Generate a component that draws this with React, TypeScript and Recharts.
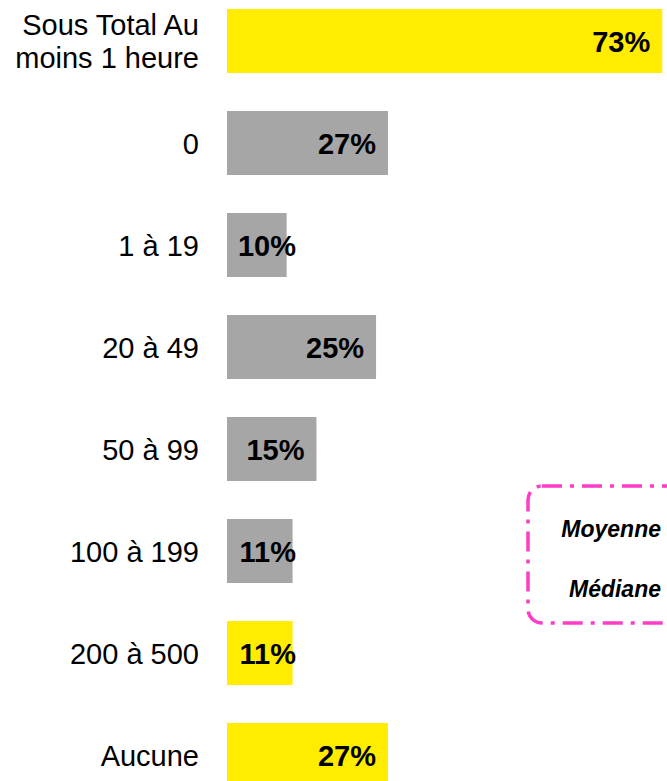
import React from "react";
import { BarChart, Bar, XAxis, YAxis, Cell, LabelList } from "recharts";

const categories = [
  "Sous Total Au\nmoins 1 heure",
  "0",
  "1 à 19",
  "20 à 49",
  "50 à 99",
  "100 à 199",
  "200 à 500",
  "Aucune",
];
const values = [73, 27, 10, 25, 15, 11, 11, 27];
const colors = ["#FFEC00", "#A6A6A6", "#A6A6A6", "#A6A6A6", "#A6A6A6", "#A6A6A6", "#FFEC00", "#FFEC00"];
const boxLines = ["Moyenne", "Médiane"];

const data = categories.map((c, i) => ({ name: c, value: values[i], color: colors[i] }));

const FONT = "'Liberation Sans', Arial, sans-serif";

const CatTick = (props: any) => {
  const { x, y, payload } = props;
  const lines = String(payload.value).split("\n");
  const n = lines.length;
  return (
    <g>
      {lines.map((l, i) => (
        <text
          key={i}
          x={x}
          y={y + 10.5 + (i - (n - 1) / 2) * 33}
          textAnchor="end"
          fontFamily={FONT}
          fontSize={29}
          fill="#000"
        >
          {l}
        </text>
      ))}
    </g>
  );
};

const ValLabel = (props: any) => {
  const { x, y, width, height, value } = props;
  const tx = Math.max(x + width - 12, x + 69);
  return (
    <text
      x={tx}
      y={y + height / 2 + 10.5}
      textAnchor="end"
      fontFamily={FONT}
      fontSize={29}
      fontWeight="bold"
      fill="#000"
    >
      {value}%
    </text>
  );
};

export default function App() {
  return (
    <div
      style={{
        position: "absolute",
        left: 0,
        top: 0,
        width: 667,
        height: 781,
        overflow: "hidden",
        background: "#fff",
      }}
    >
      <div style={{ position: "absolute", left: 0, top: -10 }}>
        <BarChart
          layout="vertical"
          width={704}
          height={816}
          data={data}
          margin={{ top: 0, right: 0, bottom: 0, left: 0 }}
          barSize={64}
        >
          <XAxis type="number" domain={[0, 80]} hide />
          <YAxis
            type="category"
            dataKey="name"
            width={227}
            axisLine={false}
            tickLine={false}
            tickSize={0}
            tickMargin={28}
            tick={<CatTick />}
            interval={0}
          />
          <Bar dataKey="value" isAnimationActive={false}>
            {data.map((d, i) => (
              <Cell key={i} fill={d.color} />
            ))}
            <LabelList dataKey="value" content={<ValLabel />} />
          </Bar>
        </BarChart>
      </div>
      <svg
        width={667}
        height={781}
        style={{ position: "absolute", left: 0, top: 0, pointerEvents: "none" }}
      >
        <rect
          x={528}
          y={486}
          width={172}
          height={137}
          rx={14}
          fill="none"
          stroke="#FF3CC8"
          strokeWidth={3.5}
          strokeDasharray="20 8 4 8"
        />
        {boxLines.map((t, i) => (
          <text
            key={i}
            x={661}
            y={537 + i * 60}
            textAnchor="end"
            fontFamily={FONT}
            fontSize={23}
            fontWeight="bold"
            fontStyle="italic"
            fill="#000"
          >
            {t}
          </text>
        ))}
      </svg>
    </div>
  );
}
